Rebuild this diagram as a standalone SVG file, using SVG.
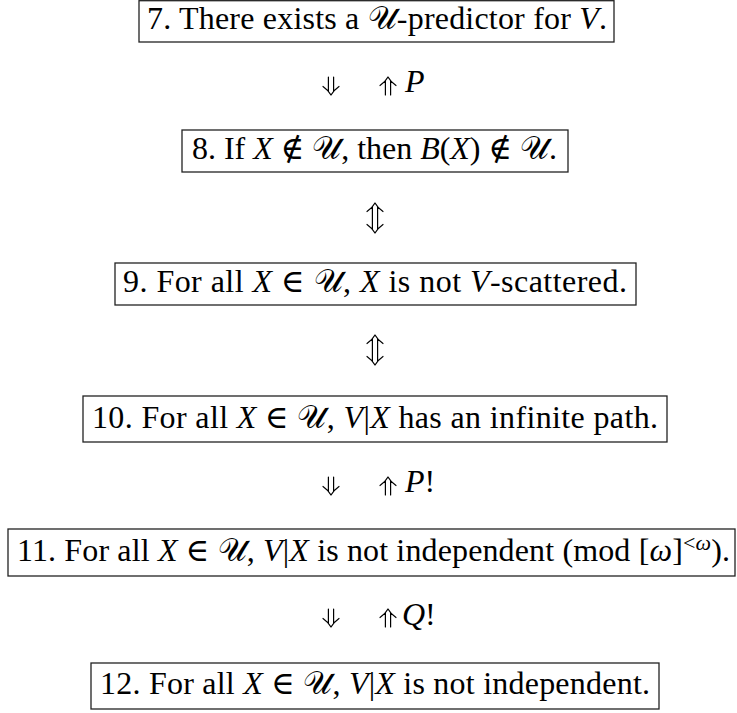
<svg xmlns="http://www.w3.org/2000/svg" width="737" height="713" viewBox="0 0 737 713">
<style>
.box{fill:#fff;stroke:#222;stroke-width:1.3}
.t{font-family:"Liberation Serif","DejaVu Serif",serif;font-size:32px;fill:#000}
.i{font-style:italic}
.lab{font-family:"Liberation Serif","DejaVu Serif",serif;font-size:32px;fill:#000}
.ar{fill:none;stroke:#000;stroke-width:1.2;stroke-linecap:round;stroke-linejoin:round}
</style>
<defs>
  <path id="dn" class="ar" d="M-2.6,-18 V-3.6 M2.6,-18 V-3.6 M-8,-8.5 C-4.5,-6 -1.6,-3 0,0 C1.6,-3 4.5,-6 8,-8.5"/>
  <path id="up" class="ar" d="M-2.6,18 V3.6 M2.6,18 V3.6 M-8,8.5 C-4.5,6 -1.6,3 0,0 C1.6,3 4.5,6 8,8.5"/>
  <path id="ud" class="ar" d="M-2.6,3.6 V26.4 M2.6,3.6 V26.4 M-8,8.5 C-4.5,6 -1.6,3 0,0 C1.6,3 4.5,6 8,8.5 M-8,21.5 C-4.5,24 -1.6,27 0,30 C1.6,27 4.5,24 8,21.5"/>
</defs>
<rect width="737" height="713" fill="#fff"/>
<g id="connectors">
  <use href="#dn" x="331" y="95"/>
  <use href="#up" x="388" y="77"/>
  <text class="lab i" x="405" y="92">P</text>
  <use href="#ud" x="375" y="203"/>
  <use href="#ud" x="375" y="335"/>
  <use href="#dn" x="331" y="495"/>
  <use href="#up" x="388" y="477"/>
  <text class="lab" x="405" y="492"><tspan class="i">P</tspan>!</text>
  <use href="#dn" x="331" y="627"/>
  <use href="#up" x="388" y="609"/>
  <text class="lab" x="402" y="625"><tspan class="i">Q</tspan>!</text>
</g>
<g id="n7">
  <rect class="box" x="139" y="0.7" width="475" height="41.3"/>
  <text class="t" x="147" y="29" textLength="460">7. There exists a 𝒰-predictor for <tspan class="i">V</tspan>.</text>
</g>
<g id="n8">
  <rect class="box" x="182" y="130" width="386" height="42"/>
  <text class="t" x="192" y="159" textLength="365">8. If <tspan class="i">X</tspan> ∉ 𝒰, then <tspan class="i">B</tspan>(<tspan class="i">X</tspan>) ∉ 𝒰.</text>
</g>
<g id="n9">
  <rect class="box" x="115" y="263" width="521" height="42"/>
  <text class="t" x="123" y="292" textLength="504">9. For all <tspan class="i">X</tspan> ∈ 𝒰, <tspan class="i">X</tspan> is not <tspan class="i">V</tspan>-scattered.</text>
</g>
<g id="n10">
  <rect class="box" x="83" y="396" width="584" height="46"/>
  <text class="t" x="92" y="428" textLength="566">10. For all <tspan class="i">X</tspan> ∈ 𝒰, <tspan class="i">V</tspan>|<tspan class="i">X</tspan> has an infinite path.</text>
</g>
<g id="n11">
  <rect class="box" x="8" y="529" width="727" height="47"/>
  <text class="t" x="17" y="561" textLength="713">11. For all <tspan class="i">X</tspan> ∈ 𝒰, <tspan class="i">V</tspan>|<tspan class="i">X</tspan> is not independent (mod [<tspan class="i">ω</tspan>]<tspan dy="-11" style="font-size:22px">&lt;<tspan class="i">ω</tspan></tspan><tspan dy="11">).</tspan></text>
</g>
<g id="n12">
  <rect class="box" x="91" y="663" width="568" height="46"/>
  <text class="t" x="100" y="694" textLength="550">12. For all <tspan class="i">X</tspan> ∈ 𝒰, <tspan class="i">V</tspan>|<tspan class="i">X</tspan> is not independent.</text>
</g>
</svg>
